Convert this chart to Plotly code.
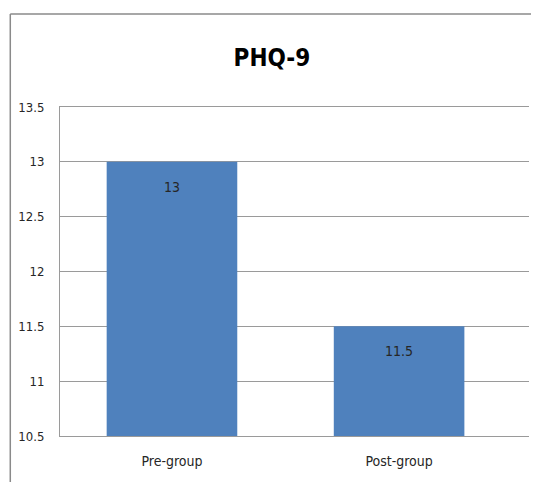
import plotly.graph_objects as go

groups = ["Pre-group", "Post-group"]
phq9_scores = [13, 11.5]
y_ticks = [10.5, 11, 11.5, 12, 12.5, 13, 13.5]

FONT = "DejaVu Sans Condensed, sans-serif"

fig = go.Figure()
fig.add_trace(go.Bar(
    x=groups,
    y=phq9_scores,
    width=0.575,
    marker=dict(color="#4F81BD", line=dict(width=0)),
))

# value labels sitting a little below each bar top
for g, v in zip(groups, phq9_scores):
    fig.add_annotation(x=g, y=v, text=f"{v:g}", showarrow=False,
                       yanchor="middle", yshift=-25,
                       font=dict(family=FONT, size=14, color="#262626"))

fig.update_layout(
    width=531,
    height=474,
    paper_bgcolor="white",
    plot_bgcolor="white",
    showlegend=False,
    margin=dict(l=50, r=10, t=99, b=46),
    title=dict(
        text="<b>PHQ-9</b>",
        x=0.497, xanchor="center",
        y=0.8945, yanchor="middle",
        font=dict(family=FONT, size=24, color="black"),
    ),
    xaxis=dict(
        range=[-0.493, 1.572],
        showgrid=False,
        showline=True,
        mirror=True,
        linecolor="#9a9a9a",
        linewidth=1,
        ticks="",
        ticklabelstandoff=12,
        tickfont=dict(family=FONT, size=14, color="#262626"),
    ),
    yaxis=dict(
        range=[10.5, 13.5],
        tickvals=y_ticks,
        ticktext=[f"{v:g}" for v in y_ticks],
        showgrid=True,
        gridcolor="#9a9a9a",
        gridwidth=1,
        showline=True,
        linecolor="#9a9a9a",
        zeroline=False,
        ticks="",
        ticklabelstandoff=12,
        tickfont=dict(family=FONT, size=13, color="#262626"),
    ),
)

# outer chart border (left and top edges visible in the reference)
fig.add_shape(type="line", xref="paper", yref="paper",
              x0=-0.106, x1=-0.106, y0=-0.15, y1=1.283,
              line=dict(color="#8a8a8a", width=1.5))
fig.add_shape(type="line", xref="paper", yref="paper",
              x0=-0.106, x1=1.03, y0=1.283, y1=1.283,
              line=dict(color="#8a8a8a", width=1.5))

fig.write_html("out.html")
